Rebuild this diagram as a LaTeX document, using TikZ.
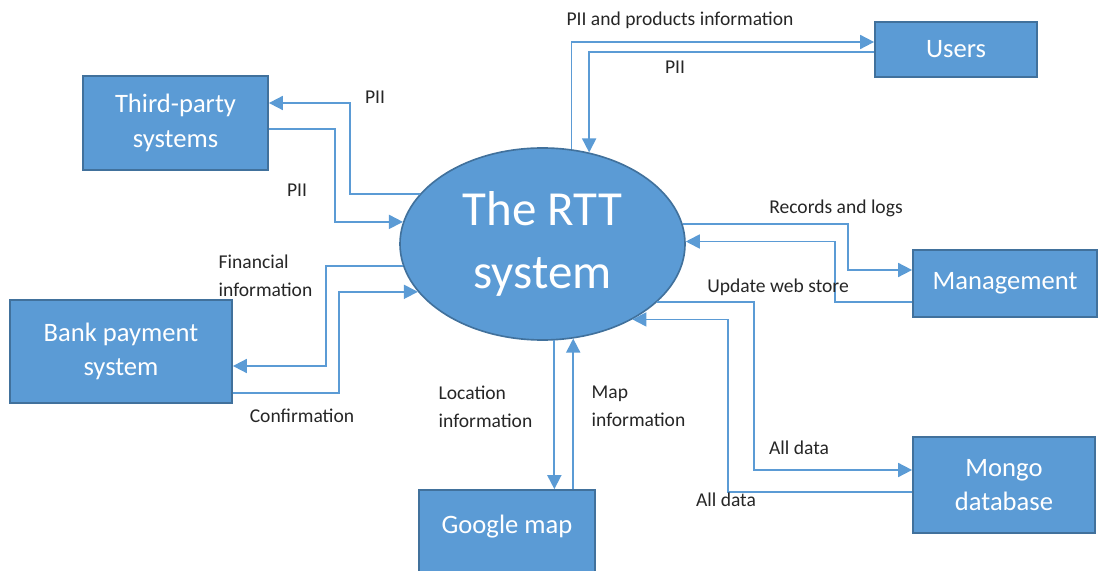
\documentclass[tikz,border=0pt]{standalone}
\usepackage{fontspec}
\setmainfont{Carlito}
\usetikzlibrary{arrows.meta}
\usetikzlibrary{shapes.geometric}

\definecolor{boxblue}{HTML}{5B9BD5}
\definecolor{boxedge}{HTML}{41719C}
\definecolor{flowblue}{HTML}{5B9BD5}
\definecolor{labelgray}{HTML}{262626}

\tikzset{
    ent/.style={draw=boxedge, line width=1.5pt, fill=boxblue, text=white,
        align=center, font=\fontsize{22.7}{29.5}\selectfont},
    proc/.style={ellipse, draw=boxedge, line width=1.4pt, fill=boxblue,
        text=white, align=center, inner sep=0pt,
        minimum width=8.55cm, minimum height=5.76cm,
        font=\fontsize{41.8}{54}\selectfont},
    flow/.style={draw=flowblue, line width=1.5pt,
        -{Triangle[length=4.2mm, width=4.2mm]}},
    lbl/.style={text=labelgray, align=left,
        font=\fontsize{16.7}{23.8}\selectfont}
}

\begin{document}
\begin{tikzpicture}[
                x={(0.03cm,0cm)}, y={(0cm,-0.03cm)} ]

            \clip (0,0) rectangle (1099,571);

            \node[ent, minimum width=5.55cm, minimum height=2.82cm] (tps) at (175.5,123) {Third-party\\systems};
            \node[ent, minimum width=4.86cm, minimum height=1.65cm] (usr) at (956,49.5) {Users};
            \node[ent, minimum width=5.52cm, minimum height=2.01cm] (mgt) at (1005,283.5) {Management};
            \node[ent, minimum width=6.66cm, minimum height=3.09cm] (bank) at (121,351.5) {Bank payment\\system};
            \node[ent, minimum width=5.28cm, minimum height=2.7cm,
                text height=15pt, text depth=17.4pt] (gmap) at (507,535) {Google map};
            \node[ent, minimum width=5.46cm, minimum height=2.88cm] (mdb) at (1004,485) {Mongo\\database};

            \node[proc] (rtt) at (542.5,244) {The RTT\\system};

            % third-party systems
            \draw[flow] (rtt.158.2) -- (350,0 |- rtt.158.2) |- (tps.east |- 0,103);
            \draw[flow] (tps.east |- 0,129) -| (335,0 |- rtt.171.4) -- (rtt.171.4);
            \node[lbl] (l1) at (375,97) {PII};
            \node[lbl] (l2) at (297,190) {PII};

            % users
            \draw[flow] (rtt.73.1) |- (usr.west |- 0,42);
            \draw[flow] (usr.west |- 0,52) -| (rtt.63.4);
            \node[lbl] (l3) at (680,20) {PII and products information};
            \node[lbl] (l4) at (675,67) {PII};

            % management
            \draw[flow] (rtt.8.6) -- (848,0 |- rtt.8.6) |- (mgt.west |- 0,270);
            \draw[flow] (mgt.west |- 0,302) -| (835,0 |- rtt.1.2) -- (rtt.1.2);
            \node[lbl] (l5) at (836,208) {Records and logs};
            \node[lbl] (l6) at (778,287) {Update web store};

            % mongo database
            \draw[flow] (rtt.333) -- (754,0 |- rtt.333) |- (mdb.west |- 0,470);
            \draw[flow] (mdb.west |- 0,492) -| (728,0 |- rtt.320.8) -- (rtt.320.8);
            \node[lbl] (l7) at (799,448) {All data};
            \node[lbl] (l8) at (726,500) {All data};

            % google map
            \draw[flow] (rtt.277.5) -- (rtt.277.5 |- gmap.north);
            \draw[flow] (gmap.north -| rtt.288) -- (rtt.288);
            \node[lbl] (l9) at (485.5,406.5) {Location\\information};
            \node[lbl] (l10) at (638.5,406.5) {Map\\information};

            % bank payment system
            \draw[flow] (rtt.189.9) -- (326,0 |- rtt.189.9) |- (bank.east |- 0,366);
            \draw[flow] (bank.east |- 0,393) -| (339,0 |- rtt.201.8) -- (rtt.201.8);
            \node[lbl] (l11) at (265.5,276) {Financial\\information};
            \node[lbl] (l12) at (302,416) {Confirmation};
        \end{tikzpicture}
\end{document}
